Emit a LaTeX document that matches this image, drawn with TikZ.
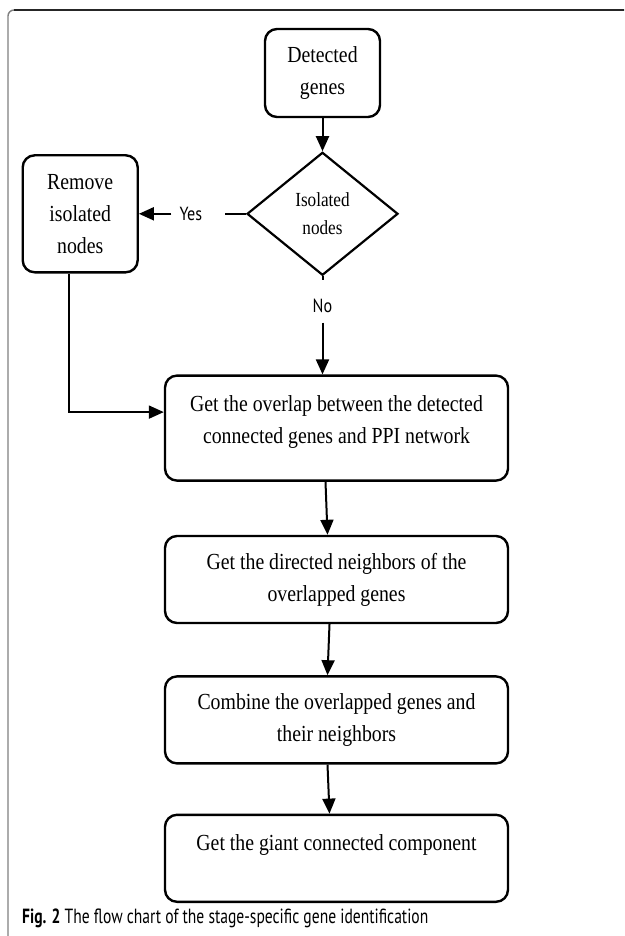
\documentclass[tikz,border=0pt]{standalone}
\usepackage{fontspec}
\setmainfont{Liberation Serif}
\newfontfamily\boxfont[FakeStretch=0.86]{Liberation Serif}
\newfontfamily\capfont[FakeStretch=0.76]{PT Sans}
\newfontfamily\lblfont[FakeStretch=0.85]{PT Sans}
\usetikzlibrary{arrows.meta,positioning,shapes.geometric,calc}

\begin{document}
\begin{tikzpicture}[
  x=1pt, y=-1pt,
  stepbox/.style={rectangle, draw, line width=2.4pt, rounded corners=12pt,
             inner sep=0pt, align=center,
             font=\boxfont\fontsize{23}{32}\selectfont},
  wide/.style={stepbox, minimum width=343pt, minimum height=87pt},
  test/.style={diamond, draw, line width=2.2pt, aspect=1.23, inner sep=0pt,
             minimum width=151pt, minimum height=123pt, align=center,
             font=\boxfont\fontsize{20}{28}\selectfont},
  lbl/.style={inner sep=0pt, font=\lblfont\fontsize{19}{22}\selectfont},
  arr/.style={-{Triangle[length=15pt, width=13pt]}, line width=2pt},
  conn/.style={line width=2pt}
]
\useasboundingbox (0,0) rectangle (624,936);
\clip (0,0) rectangle (624,936);
% outer frame
\draw[gray, line width=1.4pt] (8,960) -- (8,16) arc[start angle=180, end angle=270, radius=6];
\draw[black!85, line width=1.4pt] (14,10) -- (640,10);

\node[stepbox, minimum width=115pt, minimum height=88pt] (det) at (322.5,73) {Detected\\genes};
\node[test, below=33pt of det] (dia) {Isolated\\nodes};
\node[stepbox, minimum width=115pt, minimum height=117pt, left=107pt of dia] (rem) {Remove\\isolated\\nodes};
\node[wide, minimum height=105pt, below=98pt of dia, xshift=14pt] (ovl)
  {Get the overlap between the detected\\connected genes and PPI network\\[-14pt]\mbox{}};
\node[wide, below=53pt of ovl] (nbr) {Get the directed neighbors of the\\overlapped genes};
\node[wide, below=51pt of nbr] (cmb) {Combine the overlapped genes and\\their neighbors};
\node[wide, below=49pt of cmb] (gcc) {Get the giant connected component\\\mbox{}};

% yes / no labels
\node[lbl] (yes) at ($(dia.west)+(-55,0)$) {Yes};
\node[lbl, below=22pt of dia.south] (no) {No};

\draw[arr] (det) -- (dia);
\draw[conn] (dia.west) -- ([xshift=23pt]yes.east);
\draw[arr] ([xshift=-8pt]yes.west) -- (rem.east |- yes);
\draw[conn] (dia.south) -- ([yshift=18pt]no.north);
\draw[arr] ([yshift=-10pt]no.south) -- (ovl.north -| no);
\draw[arr] ([xshift=-11pt]rem.south) |- ([yshift=16pt]ovl.west);
\draw[arr] ([xshift=-11pt]ovl.south) -- ([xshift=-9pt]nbr.north);
\draw[arr] ([xshift=-7pt]nbr.south) -- ([xshift=-9pt]cmb.north);
\draw[arr] ([xshift=-9pt]cmb.south) -- ([xshift=-7pt]gcc.north);

% caption
\node[anchor=base west, inner sep=0pt, font=\capfont\fontsize{20.5}{24}\selectfont] (cap) at (22,923)
  {\textbf{Fig. 2} The flow chart of the stage-specific gene identification};
\end{tikzpicture}
\end{document}
